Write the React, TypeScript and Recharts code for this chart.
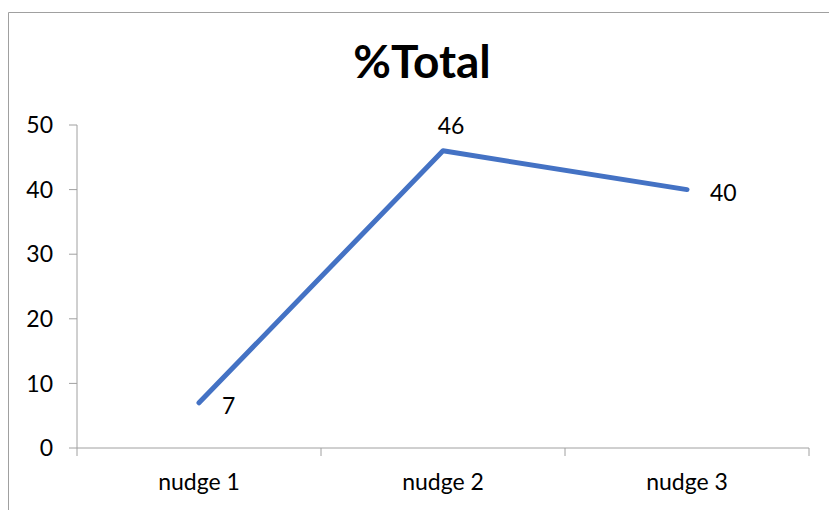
import { LabelList, Line, LineChart, XAxis, YAxis } from "recharts"

// %Total per nudge
const categories = ["nudge 1", "nudge 2", "nudge 3"]
const totals = [7, 46, 40]
const yTicks = [0, 10, 20, 30, 40, 50]

const data = categories.map((name, i) => ({ name, total: totals[i] }))

const W = 829
const H = 510
const MARGIN = { top: 125, right: 20, bottom: 0, left: 0 }
const X_AXIS_H = 62
const Y_AXIS_W = 77
const AXIS_GREY = "#a0a0a0"
const SERIES_BLUE = "#4472C4"
const FONT = "Lato, 'Open Sans', sans-serif"
const TEXT_SIZE = 23

// half of one category band, used to put x ticks between categories
const BAND_HALF = (W - MARGIN.left - MARGIN.right - Y_AXIS_W) / categories.length / 2

function CategoryTick(props: any) {
  const { x, y, payload, index } = props
  const isLast = index === categories.length - 1
  return (
    <g>
      <line x1={x - BAND_HALF} x2={x - BAND_HALF} y1={y} y2={y + 8} stroke={AXIS_GREY} />
      {isLast && (
        <line x1={x + BAND_HALF} x2={x + BAND_HALF} y1={y} y2={y + 8} stroke={AXIS_GREY} />
      )}
      <text x={x} y={y + 42} textAnchor="middle" fontSize={TEXT_SIZE} fontFamily={FONT} fill="#000">
        {payload.value}
      </text>
    </g>
  )
}

function ValueLabel(props: any) {
  const { x, y, value, index } = props
  const above = index === 1
  return (
    <text
      x={above ? x + 8 : x + 23}
      y={above ? y - 26 : y + 2}
      textAnchor={above ? "middle" : "start"}
      dominantBaseline="central"
      fontSize={TEXT_SIZE}
      fontFamily={FONT}
      fill="#000"
    >
      {value}
    </text>
  )
}

export default function App() {
  return (
    <div
      style={{
        position: "absolute",
        left: 0,
        top: 0,
        width: W,
        height: H,
        overflow: "hidden",
        background: "#fff",
      }}
    >
      <svg width={W} height={H} style={{ position: "absolute", left: 0, top: 0 }}>
        <path d={`M 8.5 ${H} V 12.5 H ${W}`} fill="none" stroke={AXIS_GREY} />
        <text
          x={422}
          y={78}
          textAnchor="middle"
          fontSize={46}
          fontWeight={700}
          fontFamily={FONT}
          fill="#000"
        >
          %Total
        </text>
      </svg>
      <div style={{ position: "absolute", left: 0, top: 0 }}>
        <LineChart width={W} height={H} data={data} margin={MARGIN}>
          <XAxis
            dataKey="name"
            scale="band"
            height={X_AXIS_H}
            axisLine={{ stroke: AXIS_GREY }}
            tickLine={false}
            tickSize={0}
            tickMargin={0}
            tick={<CategoryTick />}
            interval={0}
          />
          <YAxis
            width={Y_AXIS_W}
            domain={[0, 50]}
            ticks={yTicks}
            axisLine={{ stroke: AXIS_GREY }}
            tickLine={{ stroke: AXIS_GREY }}
            tickSize={8}
            tickMargin={16}
            tick={{ fill: "#000", fontSize: TEXT_SIZE, fontFamily: FONT }}
          />
          <Line
            dataKey="total"
            stroke={SERIES_BLUE}
            strokeWidth={5}
            strokeLinecap="round"
            strokeLinejoin="round"
            dot={false}
            isAnimationActive={false}
          >
            <LabelList dataKey="total" content={<ValueLabel />} />
          </Line>
        </LineChart>
      </div>
    </div>
  )
}
